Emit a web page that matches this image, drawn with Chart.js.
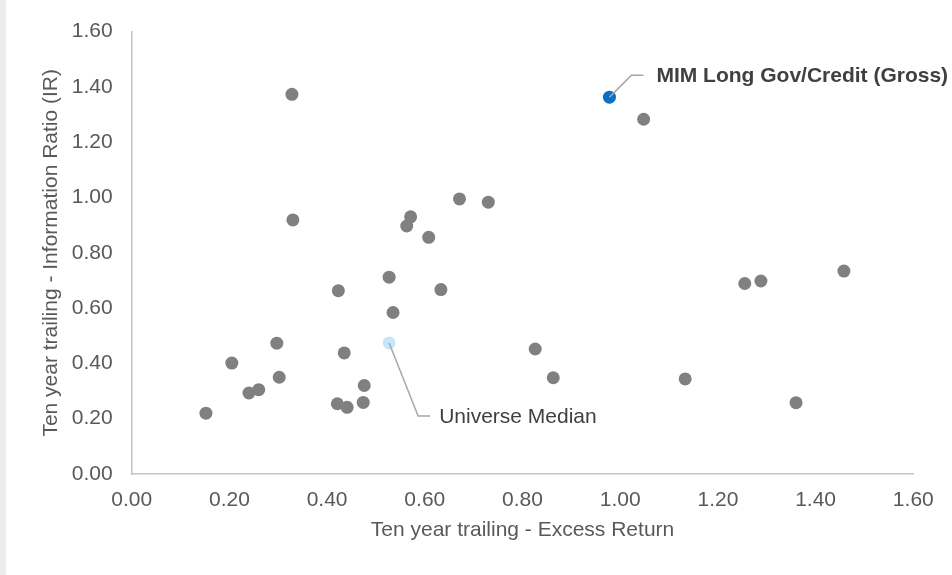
<!DOCTYPE html>
<html>
<head>
<meta charset="utf-8">
<script src="https://cdn.jsdelivr.net/npm/chart.js@4"></script>
<style>
body { margin: 0; background: #fff; }
#scatter-chart { display: block; background: linear-gradient(to right, #ececec 6px, #ffffff 6px); }
</style>
</head>
<body>
<canvas id="scatter-chart" width="952" height="575"></canvas>
<script>
//peer universe - excess return (x) and information ratio (y)
const peerX = [0.152, 0.205, 0.240, 0.260, 0.297, 0.302, 0.328, 0.330, 0.423, 0.421,
	0.435, 0.441, 0.476, 0.474, 0.527, 0.535, 0.563, 0.571, 0.608, 0.633,
	0.671, 0.730, 0.826, 0.863, 1.048, 1.133, 1.255, 1.288, 1.360, 1.458];
const peerY = [0.220, 0.401, 0.293, 0.305, 0.473, 0.350, 1.373, 0.919, 0.663, 0.254,
	0.438, 0.241, 0.320, 0.259, 0.712, 0.584, 0.897, 0.930, 0.856, 0.667,
	0.995, 0.983, 0.452, 0.348, 1.283, 0.344, 0.689, 0.698, 0.258, 0.734];

//universe median and the MIM product
const medianX = [0.527];
const medianY = [0.474];
const mimX = [0.978];
const mimY = [1.363];

const seriesLabels = ["Universe", "Universe Median", "MIM Long Gov/Credit (Gross)"];
const axisMin = 0;
const axisMax = 1.6;
const axisStep = 0.2;

const font = "'Liberation Sans', Arial, sans-serif";
const textGrey = '#595959';

function toPoints(xs, ys) {
	return xs.map((x, i) => ({ x: x, y: ys[i] }));
}

//leader lines + labels for the two highlighted points
const calloutPlugin = {
	id: 'callouts',
	afterDatasetsDraw(chart) {
		const ctx = chart.ctx;
		const callouts = [
			{ ds: 1, text: seriesLabels[1], bend: [29, 73], end: [41, 73], gap: 9, bold: false, color: '#404040' },
			{ ds: 2, text: seriesLabels[2], bend: [22, -22], end: [34, -22], gap: 13, bold: true, color: '#404040' }
		];
		callouts.forEach(c => {
			const pt = chart.getDatasetMeta(c.ds).data[0];
			ctx.save();
			ctx.strokeStyle = '#a6a6a6';
			ctx.lineWidth = 1.5;
			ctx.beginPath();
			ctx.moveTo(pt.x, pt.y);
			ctx.lineTo(pt.x + c.bend[0], pt.y + c.bend[1]);
			ctx.lineTo(pt.x + c.end[0], pt.y + c.end[1]);
			ctx.stroke();
			ctx.font = (c.bold ? 'bold ' : '') + '21px ' + font;
			ctx.fillStyle = c.color;
			ctx.textAlign = 'left';
			ctx.textBaseline = 'middle';
			ctx.fillText(c.text, pt.x + c.end[0] + c.gap, pt.y + c.end[1] + 1);
			ctx.restore();
		});
	}
};

const scatterCanvas = document.getElementById("scatter-chart");
const scatterData = {
	datasets: [{
		label: seriesLabels[0],
		data: toPoints(peerX, peerY),
		backgroundColor: '#808080',
		borderWidth: 0,
		pointRadius: 6.5
	}, {
		label: seriesLabels[1],
		data: toPoints(medianX, medianY),
		backgroundColor: '#c6e7fa',
		borderWidth: 0,
		pointRadius: 6.5
	}, {
		label: seriesLabels[2],
		data: toPoints(mimX, mimY),
		backgroundColor: '#0b6fc3',
		borderWidth: 0,
		pointRadius: 6.5
	}]
};

const tickFont = { family: font, size: 21 };
const scatterOptions = {
	responsive: false,
	animation: false,
	events: [],
	layout: {
		padding: { left: 0, top: 29.5, right: 38.7, bottom: 0 }
	},
	scales: {
		x: {
			type: 'linear',
			min: axisMin,
			max: axisMax,
			afterFit: s => { s.height = 101; },
			ticks: {
				stepSize: axisStep,
				color: textGrey,
				font: tickFont,
				padding: 14,
				callback: v => v.toFixed(2)
			},
			grid: { drawOnChartArea: false, drawTicks: false },
			border: { color: '#c4c4c4', width: 1.5 },
			title: {
				display: true,
				text: 'Ten year trailing - Excess Return',
				color: textGrey,
				font: tickFont,
				padding: { top: 0, bottom: 32 }
			}
		},
		y: {
			type: 'linear',
			min: axisMin,
			max: axisMax,
			afterFit: s => { s.width = 131.7; },
			ticks: {
				stepSize: axisStep,
				color: textGrey,
				font: tickFont,
				padding: 19,
				callback: v => v.toFixed(2)
			},
			grid: { drawOnChartArea: false, drawTicks: false },
			border: { color: '#c4c4c4', width: 1.5 },
			title: {
				display: true,
				text: 'Ten year trailing - Information Ratio (IR)',
				color: textGrey,
				font: tickFont,
				padding: { top: 39, bottom: 0 }
			}
		}
	},
	plugins: {
		legend: { display: false },
		tooltip: { enabled: false }
	}
};

let scatterChart = new Chart(scatterCanvas, {
	type: 'scatter',
	data: scatterData,
	options: scatterOptions,
	plugins: [calloutPlugin]
});
</script>
</body>
</html>
